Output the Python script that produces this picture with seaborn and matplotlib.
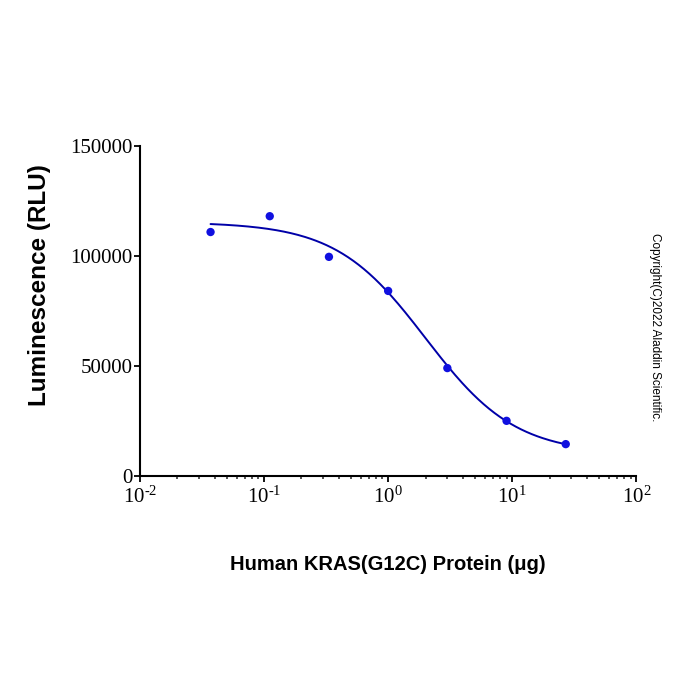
import numpy as np
import pandas as pd
import seaborn as sns
import matplotlib
matplotlib.use("Agg")
import matplotlib.pyplot as plt
from matplotlib.ticker import LogLocator, FixedLocator, NullLocator

# Measured points (3-fold dilution series)
protein_ug = [1 / 27, 1 / 9, 1 / 3, 1, 3, 9, 27]
luminescence = [111000, 118200, 99700, 84200, 49100, 25100, 14500]

# 4PL fit parameters
fit_top = 115500
fit_bottom = 10000
fit_ec50 = 2.0
fit_hill = 1.2

y_ticks = [0, 50000, 100000, 150000]
x_ticks = [1e-2, 1e-1, 1e0, 1e1, 1e2]
x_tick_labels = ["10$^{\u2010 2}$", "10$^{\u2010 1}$", "10$^{0}$", "10$^{1}$", "10$^{2}$"]

df = pd.DataFrame({"x": protein_ug, "y": luminescence})

xs = np.logspace(np.log10(protein_ug[0]), np.log10(protein_ug[-1]), 200)
fit_df = pd.DataFrame({
    "x": xs,
    "y": fit_bottom + (fit_top - fit_bottom) / (1 + (xs / fit_ec50) ** fit_hill),
})

sns.set_style("ticks")
plt.rcParams["font.family"] = ["Liberation Serif", "DejaVu Serif"]
plt.rcParams["mathtext.fontset"] = "custom"
plt.rcParams["mathtext.rm"] = "Liberation Serif"
plt.rcParams["mathtext.default"] = "rm"

fig = plt.figure(figsize=(7, 7), dpi=100)
ax = fig.add_axes([0.2, 0.32, 0.709, 0.471])

line_color = "#0000a8"
sns.lineplot(data=fit_df, x="x", y="y", ax=ax, color=line_color, linewidth=1.4)
sns.scatterplot(data=df, x="x", y="y", ax=ax, color="#1010e0", s=36,
                edgecolor="none", zorder=3)

ax.set_xscale("log")
ax.set_xlim(1e-2, 1e2)
ax.set_ylim(0, 150000)
ax.xaxis.set_major_locator(FixedLocator(x_ticks))
ax.set_xticklabels(x_tick_labels)
ax.xaxis.set_minor_locator(LogLocator(base=10, subs=np.arange(2, 10)))
ax.yaxis.set_major_locator(FixedLocator(y_ticks))
ax.set_yticklabels([str(v) for v in y_ticks])
ax.yaxis.set_minor_locator(NullLocator())

ax.tick_params(axis="both", which="major", direction="out", length=4.5,
               width=1.3, labelsize=15, colors="black")
ax.tick_params(axis="y", which="major", pad=1)
ax.tick_params(axis="x", which="major", pad=3)
ax.tick_params(axis="x", which="minor", direction="out", length=2.5, width=1.1)
for s in ["left", "bottom"]:
    ax.spines[s].set_linewidth(1.5)
    ax.spines[s].set_color("black")
sns.despine(ax=ax)

lbl = dict(family=["Liberation Sans", "DejaVu Sans"], fontweight="bold",
           color="black")
ax.set_xlabel("Human KRAS(G12C) Protein (μg)", labelpad=34, fontsize=14.5, **lbl)
ax.set_ylabel("Luminescence (RLU)", fontsize=17.5, **lbl)
ax.yaxis.set_label_coords(-0.18, 0.58)

fig.text(0.936, 0.532, "Copyright(C)2022 Aladdin Scientific.", rotation=-90,
         ha="center", va="center", fontsize=8.5, color="black",
         family=["Liberation Sans", "DejaVu Sans"])

fig.savefig("out.png", dpi=100)
